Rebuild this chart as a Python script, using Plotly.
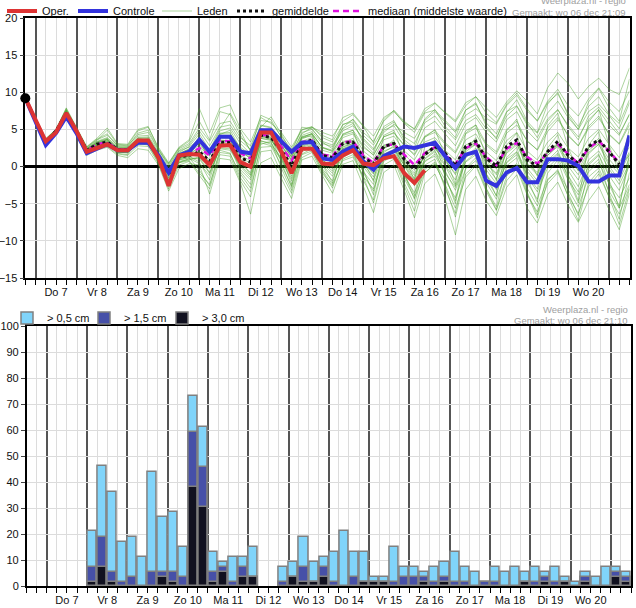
import pandas as pd
import plotly.graph_objects as go

# ---------------- data ----------------
day_labels = ["Do 7", "Vr 8", "Za 9", "Zo 10", "Ma 11", "Di 12", "Wo 13",
              "Do 14", "Vr 15", "Za 16", "Zo 17", "Ma 18", "Di 19", "Wo 20"]

oper = [9.2, 6.3, 3.4, 4.6, 7.2, 4.8, 2.0, 2.5, 3.0, 2.2, 2.2, 3.5, 3.5,
        1.2, -2.6, 1.5, 1.7, 1.6, 0.2, 2.8, 2.9, 0.6, 0.0, 4.6, 4.6, 2.0, -0.9, 2.4, 2.4,
        0.4, 0.3, 1.5, 2.2, 0.4, 0.2, 1.1, 1.4, -0.9, -2.2, -0.5] + [None] * 20

controle = [9.2, 6.0, 2.9, 4.5, 6.7, 4.5, 1.8, 2.4, 3.0, 2.2, 2.2, 3.2, 3.2,
            1.5, -0.8, 1.5, 2.0, 3.6, 2.0, 4.0, 4.0, 2.0, 1.8, 4.9, 4.9, 3.4, 2.0, 3.2, 3.3,
            1.1, 0.9, 2.0, 2.7, 0.7, -0.4, 1.4, 2.0, 2.7, 2.5, 2.9, 3.2, 1.4, -0.2, 1.6, 2.0,
            -1.9, -2.6, -0.8, -0.2, -2.1, -2.1, 1.0, 1.0, 0.8, 0.1, -2.0, -2.0, -1.2, -1.2, 4.2]

gemiddelde = [9.2, 6.2, 3.3, 4.8, 7.2, 4.8, 2.2, 3.0, 3.3, 2.3, 2.3, 3.4, 3.4,
              1.3, -1.0, 1.3, 1.5, 2.0, 0.7, 3.3, 3.2, 1.2, 0.6, 4.2, 3.9, 2.2, 0.1, 3.1, 3.6,
              1.5, 1.2, 3.1, 3.3, 1.2, 0.4, 2.7, 3.1, 1.0, -0.4, 1.6, 2.7, 1.8, 0.1, 2.7, 3.4,
              1.1, 0.1, 2.7, 3.6, 0.9, 0.1, 2.0, 3.4, 1.5, 0.4, 2.7, 3.6, 2.0, 0.3, None]

mediaan = [9.2, 6.2, 3.3, 4.8, 7.2, 4.8, 2.2, 3.0, 3.3, 2.3, 2.3, 3.4, 3.4,
           1.4, -0.8, 1.4, 1.6, 2.5, 1.5, 3.5, 3.4, 1.8, 1.1, 4.3, 4.1, 2.7, 0.8, 3.3, 3.5,
           1.6, 1.4, 3.3, 3.4, 1.5, 0.5, 2.8, 3.0, 1.6, 0.2, 1.8, 2.6, 1.6, 0.3, 2.5, 3.1,
           1.3, 0.2, 2.4, 3.2, 1.3, 0.4, 1.8, 3.0, 1.7, 0.4, 2.5, 3.4, 2.1, 0.5, None]

lid_01 = [9.2, 6.3, 3.5, 4.7, 7.4, 4.9, 2.1, 2.8, 3.2, 2.1, 2.2, 3.6, 3.3,
          1.0, -1.5, 1.2, 1.8, 2.4, 0.9, 3.6, 3.4, 1.5, 0.8, 4.5, 4.2, 2.6, 0.3, 3.4, 3.9,
          1.8, 1.0, 3.2, 3.8, 1.4, 0.2, 2.9, 3.3, 1.2, -0.5, 1.9, 2.8, 1.6, 0.1, 2.9, 3.5,
          1.0, -0.3, 2.5, 3.4, 0.8, 0.0, 2.2, 3.1, 1.4, 0.2, 2.5, 3.8, 1.9, 0.2, 1.5]
lid_02 = [9.2, 6.4, 3.8, 5.0, 7.9, 5.3, 2.6, 3.6, 4.2, 2.9, 2.8, 4.3, 4.6,
          2.2, 0.3, 2.4, 3.1, 5.2, 3.4, 5.8, 6.1, 3.9, 2.8, 6.2, 6.0, 4.1, 2.3, 4.9, 5.4,
          3.9, 3.3, 5.6, 6.3, 4.2, 2.9, 5.1, 6.0, 4.0, 3.1, 5.9, 6.8, 5.0, 3.6, 6.2, 7.0,
          5.1, 3.9, 6.8, 8.1, 5.6, 4.5, 7.2, 8.8, 6.6, 5.0, 7.4, 8.4, 6.9, 5.1, 8.6]
lid_03 = [9.2, 6.1, 3.2, 4.6, 7.0, 4.7, 2.4, 3.3, 3.8, 2.6, 2.5, 3.9, 4.0,
          1.8, -0.4, 1.9, 2.7, 4.4, 2.2, 5.1, 7.2, 4.8, 2.0, 5.3, 6.7, 4.4, 1.8, 4.4, 5.3,
          4.6, 4.1, 6.1, 7.0, 5.4, 3.2, 6.3, 7.6, 6.1, 5.0, 7.4, 8.5, 7.2, 6.0, 8.2, 9.4,
          7.9, 6.6, 8.7, 10.2, 8.8, 7.1, 10.6, 12.6, 11.2, 9.1, 10.8, 11.9, 10.4, 9.7, 13.3]
lid_04 = [9.2, 6.2, 3.1, 4.9, 7.1, 4.6, 1.8, 2.6, 2.9, 1.9, 1.9, 3.1, 2.9,
          0.8, -2.2, 0.6, 0.9, 1.2, -0.8, 2.4, 2.2, 0.0, -1.5, 3.2, 2.8, 0.9, -1.9, 2.0, 2.6,
          0.2, -1.3, 1.4, 1.9, -0.7, -2.4, 1.1, 1.6, -1.3, -3.5, -0.4, 0.6, -1.8, -4.2, -0.3, 0.8,
          -2.1, -4.4, -0.6, 0.4, -2.9, -5.3, -1.7, -0.6, -3.1, -5.4, -1.4, -0.2, -3.3, -5.6, -2.4]
lid_05 = [9.2, 6.2, 3.2, 4.7, 6.8, 4.4, 1.5, 2.2, 2.6, 1.5, 1.2, 2.4, 2.2,
          0.2, -3.3, -0.3, 0.4, 0.2, -3.7, 1.1, 0.9, -2.2, -6.4, 0.5, 1.2, -1.6, -4.3, 0.9, 1.4,
          -1.2, -3.6, 0.3, 0.8, -2.6, -6.2, -0.8, 0.2, -3.2, -6.9, -2.3, -1.0, -4.4, -9.2, -3.1, -1.3,
          -4.6, -6.6, -2.8, -1.1, -5.6, -7.6, -3.8, -2.1, -5.2, -7.5, -4.6, -2.7, -5.8, -8.5, -3.6]
lid_06 = [9.2, 6.3, 3.4, 4.9, 7.5, 5.0, 2.3, 3.1, 3.5, 2.4, 2.5, 3.7, 3.6,
          1.5, -0.9, 1.4, 2.2, 3.1, 1.5, 4.3, 4.9, 2.4, 1.2, 5.0, 4.7, 2.9, 0.7, 3.7, 4.3,
          2.6, 2.0, 4.3, 4.9, 2.8, 1.5, 4.0, 4.6, 2.9, 1.5, 4.0, 4.6, 3.0, 1.8, 4.4, 5.2,
          2.9, 1.7, 4.5, 5.6, 3.5, 2.2, 4.7, 6.3, 4.3, 2.8, 5.1, 6.5, 4.4, 3.1, 6.0]
lid_07 = [9.2, 6.0, 3.0, 4.5, 6.9, 4.5, 1.9, 2.5, 2.8, 2.0, 2.0, 3.0, 3.1,
          0.9, -1.9, 0.7, 1.0, 1.3, -0.3, 2.7, 2.6, 0.4, -0.8, 3.5, 3.0, 1.2, -1.3, 2.3, 2.9,
          0.6, -0.6, 2.0, 2.5, 0.3, -1.4, 1.7, 2.3, 0.2, -1.9, 1.0, 2.0, 0.1, -2.6, 1.2, 2.2,
          -0.4, -2.3, 1.0, 2.0, -0.6, -2.3, 0.6, 1.8, -0.5, -2.7, 0.9, 2.1, -0.3, -2.4, 0.5]
lid_08 = [9.2, 6.5, 3.6, 5.1, 7.6, 5.2, 2.5, 3.5, 4.9, 3.0, 2.9, 4.8, 5.3,
          2.6, 0.5, 2.6, 3.6, 7.8, 4.5, 7.9, 8.3, 5.1, 3.3, 6.6, 5.8, 4.6, 2.6, 5.0, 5.3,
          4.2, 3.6, 6.6, 7.2, 5.5, 4.1, 6.6, 7.5, 5.8, 4.6, 7.2, 7.6, 6.2, 4.8, 7.6, 8.4,
          5.9, 4.4, 7.4, 8.2, 5.9, 3.9, 6.4, 7.7, 5.4, 3.6, 6.8, 8.0, 6.2, 4.4, 7.0]
lid_09 = [9.2, 6.2, 3.3, 4.8, 7.3, 4.9, 2.2, 3.0, 3.4, 2.2, 2.4, 3.5, 3.5,
          1.2, -1.2, 1.6, 1.3, 2.0, 0.3, 3.0, 3.6, 1.0, 0.0, 4.0, 4.4, 2.0, -0.4, 3.0, 3.6,
          1.2, 0.6, 3.0, 3.3, 1.0, -0.5, 2.4, 3.2, 0.6, -1.2, 1.5, 2.4, 0.7, -0.9, 2.5, 3.3,
          0.5, -0.9, 2.3, 3.3, 0.4, -0.8, 1.8, 3.0, 0.8, -0.5, 2.2, 3.2, 1.0, -0.6, 2.0]
lid_10 = [9.2, 6.1, 3.1, 4.6, 7.0, 4.6, 1.7, 2.7, 3.0, 2.0, 1.8, 3.2, 3.0,
          0.5, -2.7, 0.9, 1.2, -0.5, -2.6, 2.2, 1.8, -1.5, -3.4, 3.0, 3.4, -0.2, -3.2, 1.7, 2.4,
          -0.6, -2.9, 1.2, 2.0, -1.8, -4.5, 0.7, 1.5, -2.2, -5.1, 0.2, 1.0, -3.0, -6.3, -0.2, 1.2,
          -2.9, -5.4, 0.1, 1.2, -3.4, -6.5, -0.9, 0.9, -3.5, -6.6, -0.3, 1.0, -3.6, -7.1, -0.8]
lid_11 = [9.2, 6.4, 3.5, 5.0, 7.7, 5.1, 2.4, 3.4, 3.9, 2.7, 2.6, 4.1, 4.2,
          2.0, -0.1, 2.1, 2.6, 3.7, 2.0, 4.8, 5.2, 3.1, 1.7, 5.5, 5.2, 3.4, 1.2, 4.2, 4.7,
          3.1, 2.7, 4.8, 5.5, 3.8, 2.4, 4.6, 5.7, 4.6, 3.8, 6.2, 7.4, 6.0, 4.6, 6.9, 7.8,
          6.5, 5.7, 8.2, 9.6, 7.5, 6.2, 8.8, 10.4, 8.2, 6.8, 9.1, 10.6, 8.7, 7.4, 10.2]
lid_12 = [9.2, 6.2, 3.3, 4.8, 7.2, 4.8, 2.2, 3.1, 3.3, 2.3, 2.3, 3.4, 3.4,
          1.4, -0.7, 1.4, 1.7, 2.6, 1.5, 3.5, 3.4, 1.9, 1.2, 4.3, 4.0, 2.8, 0.9, 3.3, 3.5,
          1.7, 1.5, 3.4, 3.5, 1.6, 0.6, 2.8, 3.0, 1.7, 0.2, 1.9, 2.6, 1.6, 0.4, 2.6, 3.1,
          1.4, 0.3, 2.5, 3.2, 1.4, 0.5, 1.9, 3.0, 1.8, 0.5, 2.5, 3.5, 2.2, 0.6, 2.6]
lid_13 = [9.2, 6.2, 3.2, 4.7, 7.1, 4.7, 2.0, 2.8, 3.0, 2.1, 2.1, 3.3, 3.2,
          1.0, -1.6, 1.1, 1.4, 0.6, -1.8, 2.9, 2.7, -0.7, -2.4, 3.8, 3.6, 1.5, -2.4, 2.7, 3.2,
          -0.3, -1.9, 2.4, 3.0, -0.8, -3.3, 1.9, 2.8, -1.0, -4.4, 1.1, 2.2, -1.2, -5.0, 1.3, 2.5,
          -1.6, -3.9, 1.2, 2.6, -2.1, -4.4, 0.8, 2.2, -1.6, -4.9, 0.4, 1.7, -2.4, -5.3, 0.9]
lid_14 = [9.2, 6.3, 3.6, 4.9, 7.6, 5.0, 2.6, 3.7, 4.4, 2.8, 2.7, 4.5, 4.9,
          2.3, 0.1, 2.2, 2.9, 4.8, 2.8, 5.3, 5.6, 3.5, 2.3, 5.6, 5.3, 3.7, 1.6, 4.6, 5.0,
          3.4, 2.9, 5.1, 5.8, 3.6, 2.2, 4.9, 5.5, 3.3, 2.1, 5.2, 6.1, 4.4, 2.8, 5.7, 6.6,
          4.6, 3.3, 6.3, 7.4, 4.8, 3.4, 6.1, 7.6, 5.6, 4.0, 6.3, 7.6, 5.6, 4.2, 7.1]
lid_15 = [9.2, 6.1, 3.0, 4.6, 7.0, 4.5, 1.8, 2.9, 3.7, 1.8, 1.6, 3.5, 3.8,
          0.6, -2.4, 1.0, 2.0, 4.1, 0.1, 4.5, 4.6, 0.9, -1.1, 4.9, 5.1, 1.9, -0.9, 4.0, 4.4,
          0.9, -0.3, 4.4, 4.9, 1.0, -2.0, 4.2, 4.9, 1.3, -1.8, 3.9, 5.0, 1.4, -2.4, 4.5, 5.6,
          1.2, -1.9, 4.8, 6.4, 1.6, -1.3, 5.5, 7.2, 2.6, -0.6, 6.0, 7.7, 2.9, -0.9, 5.2]
lid_16 = [9.2, 6.3, 3.4, 4.8, 7.3, 4.7, 1.9, 2.6, 2.8, 2.2, 2.2, 3.2, 3.1,
          1.1, -1.0, 1.0, 1.4, 1.8, 0.2, 2.8, 2.9, 0.8, 0.1, 3.8, 3.5, 1.9, -0.6, 2.6, 3.0,
          0.9, -0.1, 2.4, 2.8, 0.5, -1.0, 2.1, 2.6, 0.2, -2.3, 0.8, 1.4, -0.9, -2.8, 0.6, 1.6,
          -1.0, -2.9, 0.5, 1.6, -1.3, -3.4, -0.2, 1.2, -1.8, -3.8, -0.7, 0.6, -2.3, -4.2, -1.5]
lid_17 = [9.2, 6.2, 3.4, 4.9, 7.4, 5.0, 2.4, 3.2, 3.6, 2.5, 2.4, 3.8, 3.7,
          1.6, -0.5, 1.7, 2.4, 3.5, 1.8, 4.0, 4.1, 2.2, 1.0, 4.6, 4.5, 3.0, 0.9, 4.0, 4.4,
          2.6, 2.2, 5.2, 6.4, 4.6, 3.4, 6.1, 7.4, 5.9, 5.1, 7.8, 8.6, 7.3, 6.2, 8.6, 9.4,
          7.2, 5.9, 8.4, 9.9, 7.8, 6.1, 8.6, 9.8, 7.2, 5.4, 8.1, 9.4, 7.0, 5.8, 9.0]
lid_18 = [9.2, 6.1, 3.1, 4.7, 7.0, 4.6, 1.9, 2.7, 3.1, 1.9, 2.0, 3.3, 3.3,
          0.7, -2.0, 0.5, 1.1, 0.4, -1.2, 2.6, 3.1, -0.4, -1.8, 4.1, 3.9, 0.6, -2.8, 3.0, 3.5,
          0.3, -2.2, 2.6, 3.1, -0.4, -3.8, 2.4, 3.6, -0.9, -3.9, 2.7, 3.6, -1.4, -4.6, 2.2, 3.9,
          -0.9, -4.0, 2.9, 4.5, -1.5, -4.8, 2.5, 4.3, -1.1, -4.6, 2.9, 4.7, -1.8, -5.6, 1.8]
lid_19 = [9.2, 6.2, 3.3, 4.8, 7.2, 4.8, 2.2, 3.2, 3.6, 2.4, 2.3, 3.6, 3.6,
          1.3, -0.6, 1.5, 1.9, 2.9, 1.6, 3.9, 3.8, 2.4, 1.4, 4.8, 4.5, 3.2, 1.3, 3.9, 4.1,
          2.2, 1.8, 3.9, 4.4, 2.1, 1.0, 3.6, 4.1, 2.1, 0.9, 3.3, 3.9, 2.2, 0.9, 3.6, 4.4,
          2.0, 0.8, 3.5, 4.6, 2.1, 0.9, 3.3, 4.6, 2.5, 1.3, 3.8, 5.0, 3.0, 1.2, 4.0]
lid_20 = [9.2, 6.1, 3.2, 4.7, 7.1, 4.7, 2.1, 2.9, 3.1, 2.1, 2.2, 3.3, 3.2,
          1.0, -1.3, 1.2, 1.4, 1.6, 0.2, 3.1, 2.9, 0.7, -0.3, 4.0, 3.7, 1.7, -1.0, 2.8, 3.3,
          0.8, 0.1, 2.7, 3.1, 0.6, -0.9, 2.5, 3.0, 0.4, -1.6, 1.8, 2.7, 0.2, -1.8, 2.3, 3.0,
          0.0, -1.7, 2.0, 3.1, -0.2, -1.9, 1.5, 2.7, 0.1, -1.8, 1.7, 3.0, 0.1, -1.9, 1.2]
lid_21 = [9.2, 6.2, 3.2, 4.8, 7.2, 4.7, 2.0, 2.9, 3.2, 2.2, 2.1, 3.2, 3.3,
          1.1, -1.8, 0.9, 1.2, 1.0, -0.9, 2.5, 2.4, 0.2, -1.2, 3.4, 3.2, 1.0, -1.6, 2.2, 2.8,
          0.4, -0.9, 1.8, 2.4, 0.0, -1.8, 1.5, 2.1, -0.4, -2.6, 0.6, 1.7, -0.6, -3.2, 0.7, 1.9,
          -1.2, -3.1, 0.6, 1.9, -1.1, -3.0, 0.3, 1.6, -1.2, -3.4, 0.2, 1.5, -1.2, -3.2, 0.2]
lid_22 = [9.2, 6.3, 3.4, 4.9, 7.4, 5.0, 2.3, 3.3, 3.7, 2.5, 2.5, 3.8, 3.9,
          1.7, -0.3, 1.8, 2.3, 3.3, 2.1, 4.4, 4.4, 2.6, 1.6, 5.1, 4.8, 3.2, 1.4, 3.8, 4.5,
          2.5, 2.1, 4.2, 4.6, 2.6, 1.6, 4.0, 4.5, 2.8, 1.7, 4.1, 4.9, 3.2, 2.0, 4.8, 5.6,
          3.1, 2.0, 5.0, 6.1, 3.4, 2.3, 5.2, 6.6, 4.1, 2.8, 5.4, 6.8, 4.3, 3.0, 5.6]
lid_23 = [9.2, 6.1, 3.0, 4.6, 6.9, 4.5, 1.6, 2.4, 2.7, 1.7, 1.5, 2.8, 2.7,
          0.4, -3.0, 0.2, 0.7, -1.2, -3.0, 1.6, 1.4, -1.9, -4.1, 2.0, 2.2, -0.9, -3.6, 1.2, 1.9,
          -0.9, -2.6, 0.8, 1.3, -1.4, -3.0, 0.9, 1.4, -1.6, -4.2, -0.8, 0.3, -2.4, -5.6, -1.4, 0.1,
          -3.3, -5.9, -1.9, -0.3, -3.8, -6.1, -2.3, -0.8, -3.9, -6.3, -2.7, -1.0, -4.1, -6.4, -2.8]
lid_24 = [9.2, 6.4, 3.7, 5.0, 7.8, 5.2, 2.7, 3.8, 5.2, 3.1, 3.0, 5.0, 5.4,
          2.4, 0.4, 2.5, 3.4, 6.1, 3.6, 7.4, 7.0, 4.2, 2.2, 6.9, 6.3, 3.9, 1.9, 5.3, 5.1,
          3.3, 2.4, 5.7, 6.0, 3.2, 1.8, 5.4, 6.2, 3.6, 2.5, 6.4, 7.7, 5.4, 3.9, 7.6, 8.6,
          5.5, 3.7, 7.3, 9.0, 6.1, 4.6, 8.4, 10.0, 6.9, 5.0, 8.7, 10.5, 7.9, 6.1, 11.8]
lid_25 = [9.2, 6.2, 3.3, 4.7, 7.1, 4.8, 2.1, 2.9, 3.3, 2.2, 2.3, 3.4, 3.3,
          1.2, -1.1, 1.3, 1.5, 1.9, 0.4, 3.2, 3.1, 1.3, 0.4, 4.1, 3.8, 2.1, -0.2, 3.0, 3.4,
          1.3, 0.5, 2.9, 3.4, 1.0, -0.3, 2.6, 3.1, 0.8, -0.9, 1.4, 2.5, 0.9, -1.1, 2.0, 3.0,
          0.4, -1.1, 1.8, 2.9, 0.3, -1.1, 1.5, 2.9, 0.6, -1.1, 1.9, 3.0, 0.5, -1.0, 1.7]
lid_26 = [9.2, 6.2, 3.2, 4.8, 7.1, 4.6, 1.8, 2.6, 3.0, 2.0, 1.9, 3.1, 3.0,
          0.9, -2.3, 0.5, 0.8, -0.9, -2.4, 1.9, 1.7, -1.0, -2.9, 2.6, 2.7, 0.2, -2.6, 1.6, 2.1,
          -0.5, -2.4, 1.0, 1.6, -1.3, -4.9, 0.2, 1.0, -2.6, -6.0, -0.9, 0.4, -2.6, -6.8, -1.0, 0.3,
          -3.0, -5.8, -1.3, 0.2, -3.6, -6.9, -1.9, -0.4, -4.0, -7.3, -2.2, -0.6, -4.1, -7.8, -3.0]

# snow probabilities (%) per 6-hour period
kans_05 = [0, 0, 0, 0, 0, 0, 21, 46, 36.3, 17, 19, 11.3, 44, 26.7, 28.6, 15.1, 73, 61.3, 13.2, 9.2,
           11.3, 11.3, 15.1, 0, 0, 7.4, 9.2, 19, 9.2, 11.3, 13.2, 21, 13.2, 13.2, 3.6, 3.6, 15.1, 7.4, 7.4, 5.4,
           7.4, 9.2, 13.2, 7.4, 5.4, 1.5, 7.4, 5.4, 7.4, 5.4, 7.4, 5.4, 7.4, 3.6, 1.5, 5.4, 3.6, 7.4, 7.4, 5.4]
kans_15 = [0, 0, 0, 0, 0, 0, 7.4, 19, 5.4, 1.5, 3.6, 0, 5.4, 5.4, 5.4, 3.6, 59.2, 45.9, 5.4, 7.4,
           1.5, 7.4, 3.6, 0, 0, 1.5, 3.6, 7.4, 1.5, 7.4, 1.5, 0, 3.6, 1.5, 1.5, 1.5, 1.5, 3.6, 3.6, 3.6,
           1.5, 3.6, 1.5, 1.5, 0, 1.5, 1.5, 0, 0, 1.5, 1.5, 3.6, 1.5, 1.5, 0, 3.6, 0, 0, 5.4, 3.6]
kans_30 = [0, 0, 0, 0, 0, 0, 1.5, 7.4, 1.5, 0, 0, 0, 0, 3.6, 1.5, 0, 38, 30.3, 1.5, 5.4,
           0, 3.6, 3.6, 0, 0, 0, 3.6, 1.5, 1.5, 3.6, 0, 0, 0, 1.5, 1.5, 1.5, 0, 0, 0, 1.5,
           0, 1.5, 0, 0, 0, 0, 0, 0, 0, 1.5, 0, 1.5, 0, 1.5, 0, 1.5, 0, 0, 3.6, 1.5]

# ---------------- axes / times ----------------
leden = [lid_01, lid_02, lid_03, lid_04, lid_05, lid_06, lid_07, lid_08, lid_09, lid_10,
         lid_11, lid_12, lid_13, lid_14, lid_15, lid_16, lid_17, lid_18, lid_19, lid_20,
         lid_21, lid_22, lid_23, lid_24, lid_25, lid_26]
t_top = pd.date_range("2023-12-06 18:00", periods=60, freq="6h")
t_bar = pd.date_range("2023-12-06 12:00", periods=60, freq="6h") + pd.Timedelta(hours=3)
label_pos = pd.date_range("2023-12-07 12:00", periods=len(day_labels), freq="D")
midnights = pd.date_range("2023-12-07", periods=15, freq="D")

W, H = 636, 608
FONT = "Liberation Sans, Arial, sans-serif"
LG = "#dcdcdc"
SIXH = 6 * 3600 * 1000
TOP_RANGE = ["2023-12-06 18:00", "2023-12-21 12:00"]
BOT_RANGE = ["2023-12-06 12:00", "2023-12-21 12:00"]


def nz(v):
    return [x if x else None for x in v]


fig = go.Figure()

for k, lid in enumerate(leden):
    fig.add_trace(go.Scatter(x=t_top, y=lid, mode="lines", name="Leden",
                             showlegend=(k == 0), legend="legend5",
                             line=dict(color="rgba(70,160,40,0.45)", width=1),
                             hoverinfo="skip"))
fig.add_trace(go.Scatter(x=t_top, y=mediaan, mode="lines", name="mediaan (middelste waarde)",
                         legend="legend7",
                         line=dict(color="#e010e0", width=2.5, dash="6px,4px")))
fig.add_trace(go.Scatter(x=t_top, y=gemiddelde, mode="lines", name="gemiddelde",
                         legend="legend6",
                         line=dict(color="#111111", width=3, dash="3px,3px")))
fig.add_trace(go.Scatter(x=t_top, y=controle, mode="lines", name="Controle",
                         legend="legend4",
                         line=dict(color="#3333dd", width=4)))
fig.add_trace(go.Scatter(x=t_top, y=oper, mode="lines", name="Oper.",
                         legend="legend",
                         line=dict(color="#dd3333", width=4)))
fig.add_trace(go.Scatter(x=[t_top[0]], y=[oper[0]], mode="markers", showlegend=False,
                         cliponaxis=False, marker=dict(color="black", size=10)))
# empty traces so the day-label axes exist
fig.add_trace(go.Scatter(x=[], y=[], xaxis="x3", yaxis="y", showlegend=False))
fig.add_trace(go.Scatter(x=[], y=[], xaxis="x4", yaxis="y2", showlegend=False))

bar_w = SIXH * 0.9
for vals, col, nm, lg in [(kans_05, "#80d4fa", "> 0,5 cm", "legend2"),
                          (kans_15, "#4650a8", "> 1,5 cm", "legend8"),
                          (kans_30, "#111120", "> 3,0 cm", "legend9")]:
    fig.add_trace(go.Bar(x=t_bar, y=nz(vals), width=bar_w, name=nm,
                         marker=dict(color=col, line=dict(color="#808080", width=1.5)),
                         xaxis="x2", yaxis="y2", legend=lg))

tick_font = dict(family=FONT, size=11, color="#111")
xgrid = dict(type="date", tickmode="array", tickvals=midnights, ticktext=[""] * len(midnights),
             ticks="outside", ticklen=5, tickcolor="black", showgrid=True, gridcolor="#555555",
             gridwidth=1.5, zeroline=False, showline=True, linecolor="black", linewidth=1.5,
             automargin=False, tickfont=tick_font, mirror=True,
             minor=dict(dtick=SIXH, tick0="2023-12-07", ticks="outside", ticklen=5,
                        tickcolor="black", showgrid=True, gridcolor=LG, gridwidth=1))
xlab = dict(type="date", tickmode="array", tickvals=label_pos, ticktext=day_labels,
            ticks="outside", ticklen=4, tickcolor="rgba(0,0,0,0)", showgrid=False,
            zeroline=False, showline=False, automargin=False, tickfont=tick_font, side="bottom")


def leg(x, y):
    return dict(orientation="h", x=x / W, y=1 - y / H, xanchor="left", yanchor="middle",
                bgcolor="rgba(0,0,0,0)", font=dict(family=FONT, size=11, color="#111"))


fig.update_layout(
    template="none",
    width=W, height=H, margin=dict(l=0, r=0, t=0, b=0, pad=0, autoexpand=False),
    paper_bgcolor="white", plot_bgcolor="white",
    font=dict(family=FONT, size=11, color="#111"),
    barmode="overlay", bargap=0,
    xaxis=dict(domain=[25.3 / W, 629.5 / W], range=TOP_RANGE, anchor="y", **xgrid),
    xaxis3=dict(domain=[25.3 / W, 629.5 / W], range=TOP_RANGE, anchor="y", overlaying="x", **xlab),
    yaxis=dict(domain=[1 - 278 / H, 1 - 18 / H], range=[-15, 20], dtick=5, tick0=0,
               showgrid=True, gridcolor=LG, zeroline=True, zerolinecolor="black",
               zerolinewidth=2.5, showline=True, linecolor="black", linewidth=1.5,
               mirror=True, ticks="outside", ticklen=4, anchor="x", automargin=False,
               tickfont=tick_font),
    xaxis2=dict(domain=[26.7 / W, 631 / W], range=BOT_RANGE, anchor="y2", **xgrid),
    xaxis4=dict(domain=[26.7 / W, 631 / W], range=BOT_RANGE, anchor="y2", overlaying="x2", **xlab),
    yaxis2=dict(domain=[1 - 586 / H, 1 - 326 / H], range=[0, 100], dtick=10, tick0=0,
                showgrid=True, gridcolor=LG, zeroline=False, showline=True,
                linecolor="black", linewidth=1.5, mirror=True, ticks="outside", ticklen=4,
                anchor="x2", automargin=False, tickfont=tick_font),
    legend=leg(2, 11),
    legend4=leg(73, 11),
    legend5=leg(157, 11),
    legend6=leg(232, 11),
    legend7=leg(328, 11),
    legend2=leg(7, 318),
    legend8=leg(84, 318),
    legend9=leg(162, 318),
    showlegend=True,
)

ann_font = dict(family=FONT, size=9.5, color="#a0a0a0")
fig.add_annotation(text="Weerplaza.nl - regio", xref="paper", yref="paper", x=628 / W,
                   y=1 - 0.5 / H, xanchor="right", yanchor="middle", showarrow=False, font=ann_font)
fig.add_annotation(text="Gemaakt: wo 06 dec 21:09", xref="paper", yref="paper", x=628 / W,
                   y=1 - 12 / H, xanchor="right", yanchor="middle", showarrow=False, font=ann_font)
fig.add_annotation(text="Weerplaza.nl - regio", xref="paper", yref="paper", x=630 / W,
                   y=1 - 309 / H, xanchor="right", yanchor="middle", showarrow=False, font=ann_font)
fig.add_annotation(text="Gemaakt: wo 06 dec 21:10", xref="paper", yref="paper", x=630 / W,
                   y=1 - 320.5 / H, xanchor="right", yanchor="middle", showarrow=False, font=ann_font)

fig.write_html("out.html", config={"displayModeBar": False},
               post_script="document.body.style.margin='0px';document.body.style.overflow='hidden';")
